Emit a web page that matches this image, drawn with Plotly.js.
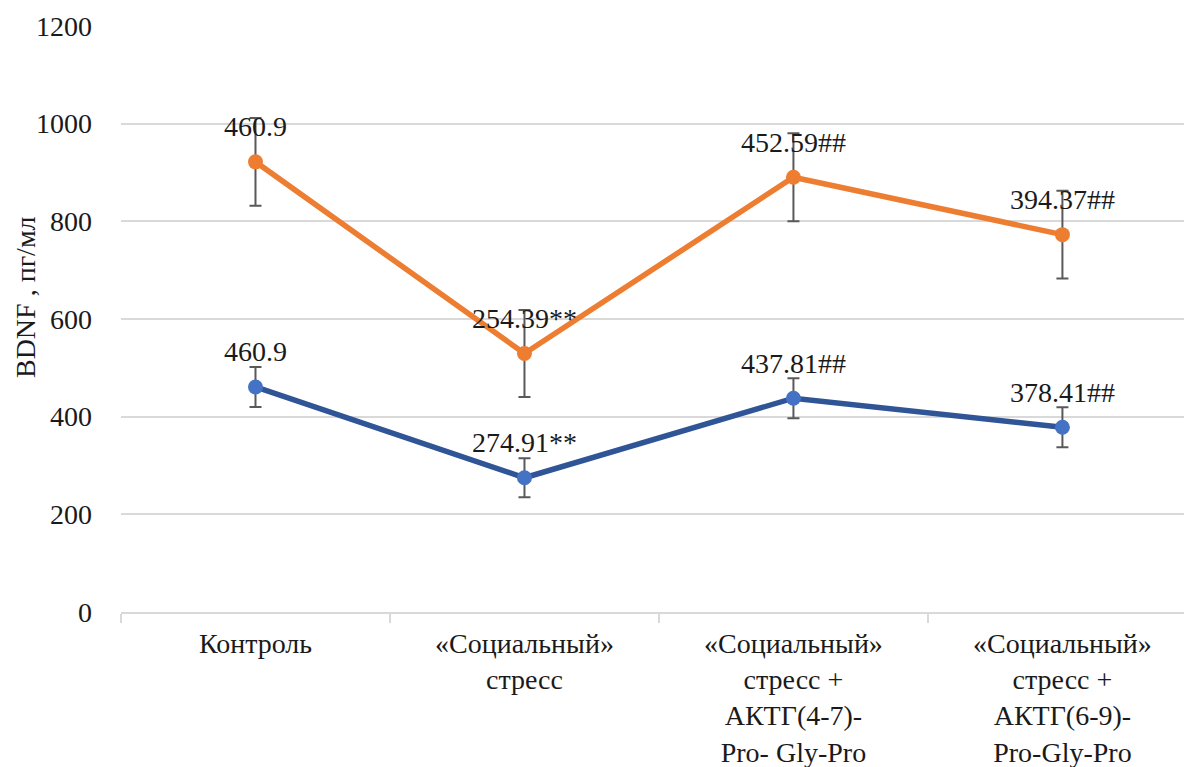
<!DOCTYPE html>
<html>
<head>
<meta charset="utf-8">
<script src="https://cdn.plot.ly/plotly-3.0.1.min.js"></script>
<style>
  html, body { margin: 0; padding: 0; background: #ffffff; }
  #chart { width: 1184px; height: 767px; }
</style>
</head>
<body>
<div id="chart"></div>
<script>
// Group names on the category axis
const categories = [
  'Контроль',
  '«Социальный»<br>стресс',
  '«Социальный»<br>стресс +<br>АКТГ(4-7)-<br>Pro- Gly-Pro',
  '«Социальный»<br>стресс +<br>АКТГ(6-9)-<br>Pro-Gly-Pro'
];

// BDNF, pg/ml — lower series
const seriesAValues = [460.9, 274.91, 437.81, 378.41];
const seriesAErrors = [41, 40, 41, 41];
const seriesALabels = ['460.9', '274.91**', '437.81##', '378.41##'];

// BDNF, pg/ml — upper series (stacked on top of the lower one)
const seriesBValues = [460.9, 254.39, 452.59, 394.37];
const seriesBErrors = [90, 89, 90, 90];
const seriesBLabels = ['460.9', '254.39**', '452.59##', '394.37##'];

const yTicks = [0, 200, 400, 600, 800, 1000, 1200];
const yTitle = 'BDNF , пг/мл';

const FONT = '"Liberation Serif", serif';
const TEXT_COLOR = '#1a1a1a';
const GRID = '#d9d9d9';

const errStyle = { type: 'data', visible: true, color: '#595959', thickness: 2, width: 6 };

const traces = [
  {
    type: 'scatter', mode: 'lines+markers', name: 'A',
    x: categories, y: seriesAValues, stackgroup: 'bdnf', fill: 'none',
    line: { color: '#2f5597', width: 5.5 },
    marker: { color: '#4472c4', size: 15 },
    error_y: Object.assign({ array: seriesAErrors }, errStyle),
    hoverinfo: 'skip'
  },
  {
    type: 'scatter', mode: 'lines+markers', name: 'B',
    x: categories, y: seriesBValues, stackgroup: 'bdnf', fill: 'none',
    line: { color: '#ed7d31', width: 5.5 },
    marker: { color: '#ed7d31', size: 15 },
    error_y: Object.assign({ array: seriesBErrors }, errStyle),
    hoverinfo: 'skip'
  }
];

// Value labels above each point; the upper series sits at the stacked total
const annotations = [];
categories.forEach((c, i) => {
  annotations.push({
    x: c, y: seriesAValues[i], xref: 'x', yref: 'y',
    text: seriesALabels[i], showarrow: false, yshift: 35,
    font: { family: FONT, size: 28, color: TEXT_COLOR }
  });
  annotations.push({
    x: c, y: seriesAValues[i] + seriesBValues[i], xref: 'x', yref: 'y',
    text: seriesBLabels[i], showarrow: false, yshift: 35,
    font: { family: FONT, size: 28, color: TEXT_COLOR }
  });
});

// Vertical axis title, set slightly above the middle of the value axis
annotations.push({
  text: yTitle, xref: 'paper', yref: 'paper', x: -0.0903, y: 0.5375,
  xanchor: 'center', yanchor: 'middle', textangle: -90, showarrow: false,
  font: { family: FONT, size: 28, color: TEXT_COLOR }
});

const layout = {
  width: 1184, height: 767,
  margin: { l: 121, r: 0, t: 26, b: 155, autoexpand: false },
  paper_bgcolor: '#ffffff', plot_bgcolor: '#ffffff',
  showlegend: false,
  font: { family: FONT, size: 28, color: TEXT_COLOR },
  xaxis: {
    type: 'category', range: [-0.5, 3.452], fixedrange: true,
    showgrid: false, zeroline: false,
    showline: true, linecolor: GRID, linewidth: 2,
    tickson: 'boundaries', ticks: 'outside', ticklen: 9, tickcolor: GRID, tickwidth: 2,
    ticklabelstandoff: 5,
    tickfont: { family: FONT, size: 28, color: TEXT_COLOR },
    automargin: false
  },
  yaxis: {
    range: [0, 1200], fixedrange: true,
    tickvals: yTicks, ticktext: yTicks.map(String),
    showgrid: true, gridcolor: GRID, gridwidth: 2,
    zeroline: false, showline: false, ticks: '',
    ticklabelstandoff: 28,
    tickfont: { family: FONT, size: 28, color: TEXT_COLOR },
    automargin: false
  },
  annotations: annotations
};

Plotly.newPlot('chart', traces, layout, { staticPlot: true, displayModeBar: false });
</script>
</body>
</html>
